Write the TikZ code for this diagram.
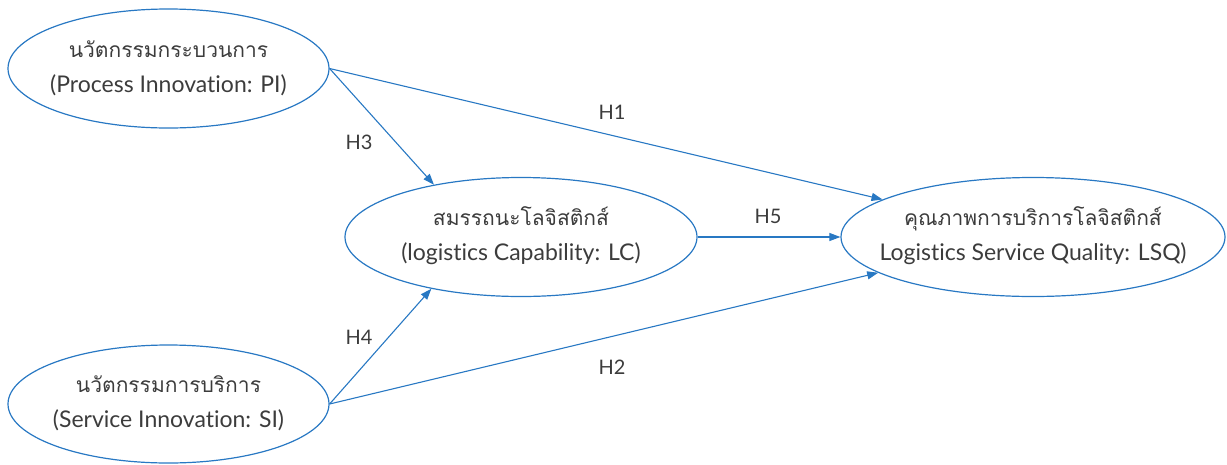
\documentclass[tikz,border=0pt]{standalone}
\usepackage{fontspec}
\setmainfont{Lato}[Ligatures={NoCommon}]
\newfontfamily\thai[Script=Thai]{Loma}
\usetikzlibrary{shapes.geometric,arrows.meta}
\definecolor{lineblue}{RGB}{40,120,195}
\definecolor{txtgray}{RGB}{60,60,60}
\newcommand{\thline}[1]{{\thai\fontsize{21}{35}\selectfont #1}}
\tikzset{
  ell/.style={ellipse, draw=lineblue, line width=1.2pt, inner sep=0pt, minimum height=119pt},
  txt/.style={align=center, text=txtgray, font=\fontsize{23}{35}\selectfont},
  hlab/.style={text=txtgray, font=\fontsize{20}{22}\selectfont, inner sep=0pt},
  conn/.style={draw=lineblue, line width=1.1pt, -{Triangle[length=11pt,width=8pt]}}
}
\begin{document}
\begin{tikzpicture}[x=1pt,y=-1pt]
\useasboundingbox (0,0) rectangle (1227,464);
\node[ell, minimum width=321pt] (PI) at (168.5,68.5) {};
\node[ell, minimum width=352pt] (LC) at (521,237) {};
\node[ell, minimum width=384pt] (LSQ) at (1033,237) {};
\node[ell, minimum width=321pt, minimum height=118pt] (SI) at (168.5,404) {};
\node[txt] (PIt) at (168.5,68) {\thline{นวัตกรรมกระบวนการ}\\(Process Innovation: PI)};
\node[txt] (LCt) at (521,236) {\thline{สมรรถนะโลจิสติกส์}\\(logistics Capability: LC)};
\node[txt] (LSQt) at (1033,236) {\thline{คุณภาพการบริการโลจิสติกส์}\\Logistics Service Quality: LSQ)};
\node[txt] (SIt) at (168.5,403) {\thline{นวัตกรรมการบริการ}\\(Service Innovation: SI)};
\draw[conn] (PI.east) -- (LSQ.166.6);
\draw[conn] (PI.east) -- (LC.149.2);
\draw[conn] (SI.east) -- (LC.210.6);
\draw[conn] (SI.east) -- (LSQ.193.1);
\draw[conn] (LC.east) -- (LSQ.west);
\node[hlab] (h1) at (612,112) {H1};
\node[hlab] (h3) at (359,142) {H3};
\node[hlab] (h5) at (768,216) {H5};
\node[hlab] (h4) at (359,337) {H4};
\node[hlab] (h2) at (612,367) {H2};
\end{tikzpicture}
\end{document}
